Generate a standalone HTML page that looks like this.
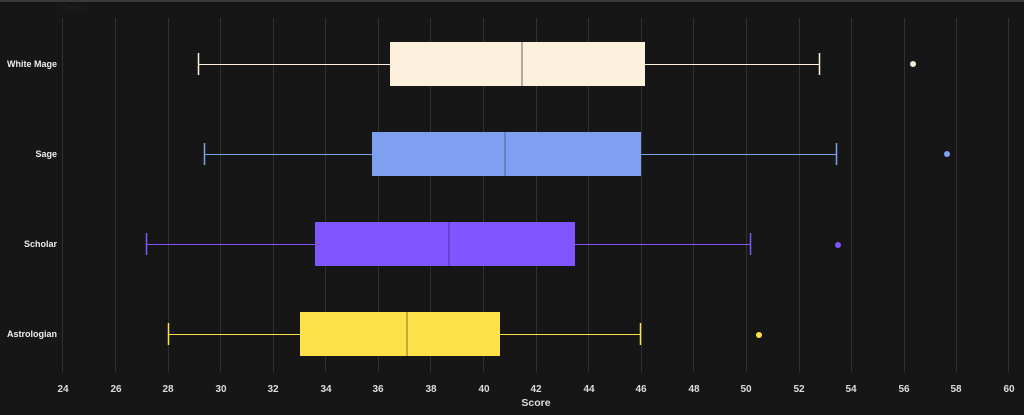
<!DOCTYPE html>
<html><head><style>
html,body{margin:0;padding:0;background:#161616;}
svg{display:block;font-family:"Liberation Sans",sans-serif;}
</style></head><body>
<svg width="1024" height="415" viewBox="0 0 1024 415">
<rect x="0" y="0" width="1024" height="415" fill="#161616"/>
<rect x="0" y="0" width="1024" height="2" fill="#3a3a3a"/>
<text x="62" y="11" font-size="9" fill="#222">Zoom</text>
<g stroke="#303030" stroke-width="1">
<line x1="62.5" y1="18" x2="62.5" y2="372"/><line x1="115.5" y1="18" x2="115.5" y2="372"/><line x1="168.5" y1="18" x2="168.5" y2="372"/><line x1="220.5" y1="18" x2="220.5" y2="372"/><line x1="273.5" y1="18" x2="273.5" y2="372"/><line x1="325.5" y1="18" x2="325.5" y2="372"/><line x1="378.5" y1="18" x2="378.5" y2="372"/><line x1="430.5" y1="18" x2="430.5" y2="372"/><line x1="483.5" y1="18" x2="483.5" y2="372"/><line x1="536.5" y1="18" x2="536.5" y2="372"/><line x1="588.5" y1="18" x2="588.5" y2="372"/><line x1="641.5" y1="18" x2="641.5" y2="372"/><line x1="693.5" y1="18" x2="693.5" y2="372"/><line x1="746.5" y1="18" x2="746.5" y2="372"/><line x1="799.5" y1="18" x2="799.5" y2="372"/><line x1="851.5" y1="18" x2="851.5" y2="372"/><line x1="904.5" y1="18" x2="904.5" y2="372"/><line x1="956.5" y1="18" x2="956.5" y2="372"/><line x1="1008.5" y1="18" x2="1008.5" y2="372"/>
</g>
<g font-size="10" font-weight="bold" fill="#ddd" text-anchor="middle">
<text x="63" y="392">24</text><text x="116" y="392">26</text><text x="168" y="392">28</text><text x="221" y="392">30</text><text x="273" y="392">32</text><text x="326" y="392">34</text><text x="378" y="392">36</text><text x="431" y="392">38</text><text x="484" y="392">40</text><text x="536" y="392">42</text><text x="589" y="392">44</text><text x="641" y="392">46</text><text x="694" y="392">48</text><text x="746" y="392">50</text><text x="799" y="392">52</text><text x="851" y="392">54</text><text x="904" y="392">56</text><text x="956" y="392">58</text><text x="1009" y="392">60</text>
<text x="536" y="406" font-size="10.5">Score</text>
</g>
<g font-size="9" font-weight="bold" fill="#eee" text-anchor="end">
<text x="57" y="67">White Mage</text><text x="57" y="157">Sage</text><text x="57" y="247">Scholar</text><text x="57" y="337">Astrologian</text>
</g>
<!-- White Mage -->
<g stroke="#fdf0dc" stroke-width="1">
<line x1="198" y1="64.5" x2="390" y2="64.5"/><line x1="645" y1="64.5" x2="819" y2="64.5"/>
<line x1="198.5" y1="53" x2="198.5" y2="75" stroke-width="1.5"/><line x1="819.5" y1="53" x2="819.5" y2="75" stroke-width="1.5"/>
</g>
<rect x="390" y="42" width="255" height="44" fill="#fdf0dc"/>
<line x1="522" y1="42" x2="522" y2="86" stroke="#888" stroke-width="1.3"/>
<circle cx="913" cy="64" r="3" fill="#fdf0dc"/>
<!-- Sage -->
<g stroke="#7f9ff0" stroke-width="1">
<line x1="204" y1="154.5" x2="372" y2="154.5"/><line x1="641" y1="154.5" x2="836" y2="154.5"/>
<line x1="204.5" y1="143" x2="204.5" y2="165" stroke-width="1.5"/><line x1="836.5" y1="143" x2="836.5" y2="165" stroke-width="1.5"/>
</g>
<rect x="372" y="132" width="269" height="44" fill="#7f9ff0"/>
<line x1="505" y1="132" x2="505" y2="176" stroke="#5a6fa8" stroke-width="1.3"/>
<circle cx="947" cy="154" r="3" fill="#7f9ff0"/>
<!-- Scholar -->
<g stroke="#8155ff" stroke-width="1">
<line x1="146" y1="244.5" x2="315" y2="244.5"/><line x1="575" y1="244.5" x2="750" y2="244.5"/>
<line x1="146.5" y1="233" x2="146.5" y2="255" stroke-width="1.5"/><line x1="750.5" y1="233" x2="750.5" y2="255" stroke-width="1.5"/>
</g>
<rect x="315" y="222" width="260" height="44" fill="#8155ff"/>
<line x1="449" y1="222" x2="449" y2="266" stroke="#5a3bb0" stroke-width="1.3"/>
<circle cx="838" cy="245" r="3" fill="#8155ff"/>
<!-- Astrologian -->
<g stroke="#ffe14a" stroke-width="1">
<line x1="168" y1="334.5" x2="300" y2="334.5"/><line x1="500" y1="334.5" x2="640" y2="334.5"/>
<line x1="168.5" y1="323" x2="168.5" y2="345" stroke-width="1.5"/><line x1="640.5" y1="323" x2="640.5" y2="345" stroke-width="1.5"/>
</g>
<rect x="300" y="312" width="200" height="44" fill="#ffe14a"/>
<line x1="407" y1="312" x2="407" y2="356" stroke="#a08f30" stroke-width="1.3"/>
<circle cx="759" cy="335" r="3" fill="#ffe14a"/>
</svg>
</body></html>
